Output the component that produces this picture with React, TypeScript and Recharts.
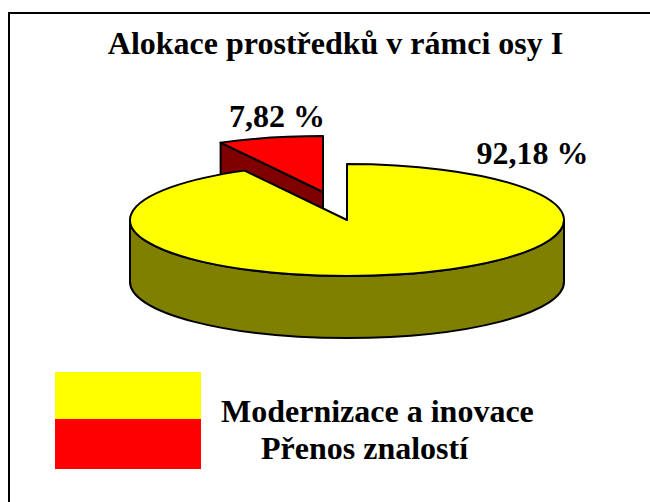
import { PieChart, Pie, Legend } from 'recharts';

const categories = ['Přenos znalostí', 'Modernizace a inovace'];
const shares = [7.82, 92.18];
const sliceLabels = ['7,82 %', '92,18 %'];
const topColors = ['#ff0000', '#ffff00'];
const sideColors = ['#800000', '#808000'];
const legendOrder = [1, 0];

const chartTitle = 'Alokace prostředků v rámci osy I';
const FONT = '"Liberation Serif", "Times New Roman", serif';

const SQUASH = 56 / 217;
const DEPTH = 62;
// the small slice is pulled out of the pie
const explode = [{ dx: -24, dy: -28 }, { dx: 0, dy: 0 }];

const chartData = categories.map((name, i) => ({ name, value: shares[i], fill: topColors[i] }));

// start so that the big slice begins at 12 o'clock
const startAngle = 90 + (shares[0] / (shares[0] + shares[1])) * 360;

const RAD = Math.PI / 180;

function Slice3D(props: any) {
  const { cx, cy, outerRadius: r, startAngle: a0, endAngle: a1, index } = props;
  const { dx, dy } = explode[index];
  const ox = cx + dx;
  const oy = cy + dy;
  const ry = r * SQUASH;
  const pt = (a: number, drop = 0) => [ox + r * Math.cos(a * RAD), oy - ry * Math.sin(a * RAD) + drop];
  const [sx, sy] = pt(a0);
  const [ex, ey] = pt(a1);
  const large = Math.abs(a0 - a1) > 180 ? 1 : 0;
  const top = `M${ox},${oy} L${sx},${sy} A${r},${ry} 0 ${large} 1 ${ex},${ey} Z`;

  let wall = '';
  if (index === 0) {
    // cut face of the pulled out slice, the rest of it sits behind the big slice
    const [bx, by] = pt(a0, DEPTH);
    wall = `M${sx},${sy} L${ox},${oy} L${ox},${oy + DEPTH} L${bx},${by} Z`;
  } else {
    // front rim, from the right end of the ellipse to the left end
    const [rx, ryy] = pt(0);
    const [lx, lyy] = pt(180);
    wall = `M${rx},${ryy} L${rx},${ryy + DEPTH} A${r},${ry} 0 0 1 ${lx},${lyy + DEPTH} L${lx},${lyy} A${r},${ry} 0 0 0 ${rx},${ryy} Z`;
  }

  return (
    <g>
      <path d={wall} fill={sideColors[index]} stroke="#000" strokeWidth={2} strokeLinejoin="round" />
      <path d={top} fill={topColors[index]} stroke="#000" strokeWidth={2} strokeLinejoin="round" />
    </g>
  );
}

function PieLegend() {
  return (
    <div style={{ position: 'relative', width: 540, height: 100, fontFamily: FONT }}>
      {legendOrder.map((idx, i) => (
        <div
          key={categories[idx]}
          style={{
            position: 'absolute',
            left: 0,
            top: i === 0 ? 0 : 47,
            width: 146,
            height: i === 0 ? 47 : 50,
            background: topColors[idx],
          }}
        />
      ))}
      {legendOrder.map((idx, i) => (
        <div
          key={categories[idx] + '-text'}
          style={{
            position: 'absolute',
            left: i === 0 ? 166 : 206,
            top: i === 0 ? 21 : 58,
            fontSize: 32,
            lineHeight: '36px',
            fontWeight: 700,
            color: '#000',
            whiteSpace: 'nowrap',
          }}
        >
          {categories[idx]}
        </div>
      ))}
    </div>
  );
}

export default function App() {
  return (
    <div style={{ position: 'absolute', left: 0, top: 0, width: 650, height: 502, background: '#fff' }}>
      <div
        style={{
          position: 'absolute',
          left: 8,
          top: 12,
          width: 642,
          height: 490,
          borderLeft: '2px solid #000',
          borderTop: '2px solid #000',
        }}
      />
      <PieChart width={650} height={502} margin={{ top: 0, right: 0, bottom: 0, left: 0 }}>
        <text x={335.5} y={54} textAnchor="middle" fontFamily={FONT} fontSize={32} fontWeight={700} fill="#000">
          {chartTitle}
        </text>
        <Pie
          data={chartData}
          dataKey="value"
          nameKey="name"
          cx={347}
          cy={220}
          outerRadius={217}
          innerRadius={0}
          startAngle={startAngle}
          endAngle={startAngle - 360}
          shape={Slice3D}
          stroke="#000"
          isAnimationActive={false}
        />
        <text x={277} y={127} textAnchor="middle" fontFamily={FONT} fontSize={32} fontWeight={700} fill="#000">
          {sliceLabels[0]}
        </text>
        <text x={532.5} y={164} textAnchor="middle" fontFamily={FONT} fontSize={32} fontWeight={700} fill="#000">
          {sliceLabels[1]}
        </text>
        <Legend
          verticalAlign="bottom"
          align="center"
          height={0}
          wrapperStyle={{ left: 55, top: 372, width: 540 }}
          content={<PieLegend />}
        />
      </PieChart>
    </div>
  );
}
